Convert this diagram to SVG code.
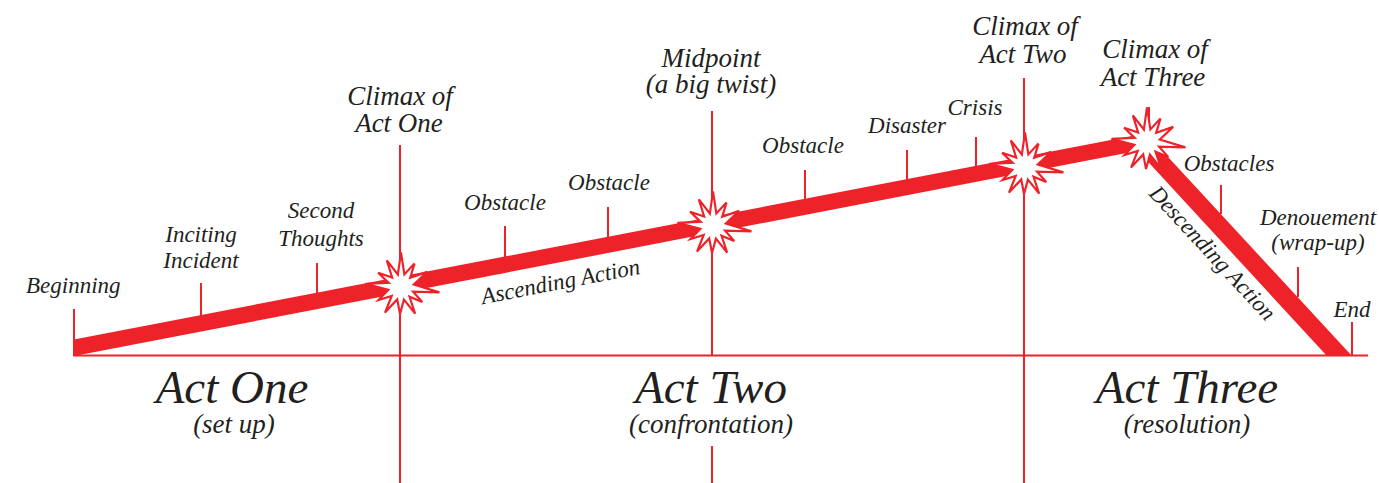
<svg xmlns="http://www.w3.org/2000/svg" xmlns:xlink="http://www.w3.org/1999/xlink" width="1379" height="483" viewBox="0 0 1379 483">
<defs>
<style>
.thin{stroke:#ee2229;stroke-width:2;fill:none}
.band{fill:#ee2229}
.burst{fill:#fff;stroke:#ee2229;stroke-width:2;stroke-linejoin:miter}
text{font-family:"Liberation Serif","Times New Roman",serif;font-style:italic;fill:#231f20}
.s{font-size:23px}
.m{font-size:27px}
.b{font-size:47px}
.c{text-anchor:middle}
</style>
<polygon id="burst" class="burst" points="35.6,5 11.2,4.4 19.7,13.8 7.9,9 13.1,24.7 2.7,11.7 -0.9,25 -3.5,11.5 -14.8,23.7 -8.6,8.3 -20.8,12 -11.7,2.6 -32.9,-2.9 -11.4,-3.8 -21.2,-13.2 -8.2,-8.8 -13.1,-24.7 -2.9,-11.6 0,-32 3.1,-11.6 12.5,-21.7 8.5,-8.5 24.2,-14 11.8,-2.3"/>
</defs>
<rect width="1379" height="483" fill="#fff"/>
<g id="connectors">
<line class="thin" x1="73" y1="355.5" x2="1368" y2="355.5"/>
<line class="thin" x1="400" y1="145" x2="400" y2="483"/>
<line class="thin" x1="712" y1="111" x2="712" y2="355"/>
<line class="thin" x1="712" y1="446" x2="712" y2="483"/>
<line class="thin" x1="1024" y1="78" x2="1024" y2="483"/>
<line class="thin" x1="1149" y1="107" x2="1149" y2="130"/>
<line class="thin" x1="74" y1="309" x2="74" y2="355"/>
<line class="thin" x1="201" y1="283" x2="201" y2="316"/>
<line class="thin" x1="317" y1="263" x2="317" y2="293"/>
<line class="thin" x1="505" y1="226" x2="505" y2="257"/>
<line class="thin" x1="608" y1="207" x2="608" y2="237"/>
<line class="thin" x1="805" y1="170" x2="805" y2="199"/>
<line class="thin" x1="907" y1="150" x2="907" y2="180"/>
<line class="thin" x1="976" y1="137" x2="976" y2="166"/>
<line class="thin" x1="1221" y1="185" x2="1221" y2="214"/>
<line class="thin" x1="1298" y1="267" x2="1298" y2="297"/>
<line class="thin" x1="1352" y1="322" x2="1352" y2="355"/>
<polygon class="band" points="74,356 74,339.5 1150,132.4 1150,148.4"/>
<polygon class="band" points="1327,356 1352,356 1150,137.5 1128,140"/>
</g>
<g id="burst-act-one"><use xlink:href="#burst" transform="translate(401,287) scale(1.08)"/></g>
<g id="burst-midpoint"><use xlink:href="#burst" transform="translate(713,226) scale(1.08)"/></g>
<g id="burst-act-two"><use xlink:href="#burst" transform="translate(1025,167) scale(1.08)"/></g>
<g id="burst-act-three"><use xlink:href="#burst" transform="translate(1147,142) scale(1.08)"/></g>
<g id="labels">
<text class="s" x="26" y="293">Beginning</text>
<text class="s c" x="201" y="242">Inciting</text>
<text class="s c" x="201" y="268">Incident</text>
<text class="s c" x="321" y="218">Second</text>
<text class="s c" x="321" y="246">Thoughts</text>
<text class="m c" x="400" y="105">Climax of</text>
<text class="m c" x="399" y="132">Act One</text>
<text class="s c" x="505" y="210">Obstacle</text>
<text class="s c" x="609" y="190">Obstacle</text>
<text class="m c" x="711" y="67">Midpoint</text>
<text class="m c" x="711" y="93">(a big twist)</text>
<text class="s c" x="803" y="153">Obstacle</text>
<text class="s c" x="907" y="133">Disaster</text>
<text class="s c" x="975" y="115">Crisis</text>
<text class="m c" x="1025" y="35">Climax of</text>
<text class="m c" x="1023" y="63">Act Two</text>
<text class="m c" x="1155" y="58">Climax of</text>
<text class="m c" x="1153" y="86">Act Three</text>
<text class="s c" x="1229" y="171">Obstacles</text>
<text class="s c" x="1318" y="225">Denouement</text>
<text class="s c" x="1318" y="250">(wrap-up)</text>
<text class="s c" x="1352" y="317">End</text>
<text class="s c" transform="translate(562,289) rotate(-10.9)">Ascending Action</text>
<text class="s c" transform="translate(1207,258) rotate(47.2)">Descending Action</text>
<text class="b c" x="232" y="403">Act One</text>
<text class="m c" x="234" y="433">(set up)</text>
<text class="b c" x="711" y="403">Act Two</text>
<text class="m c" x="711" y="433">(confrontation)</text>
<text class="b c" x="1187" y="403">Act Three</text>
<text class="m c" x="1187" y="433">(resolution)</text>
</g>
</svg>
